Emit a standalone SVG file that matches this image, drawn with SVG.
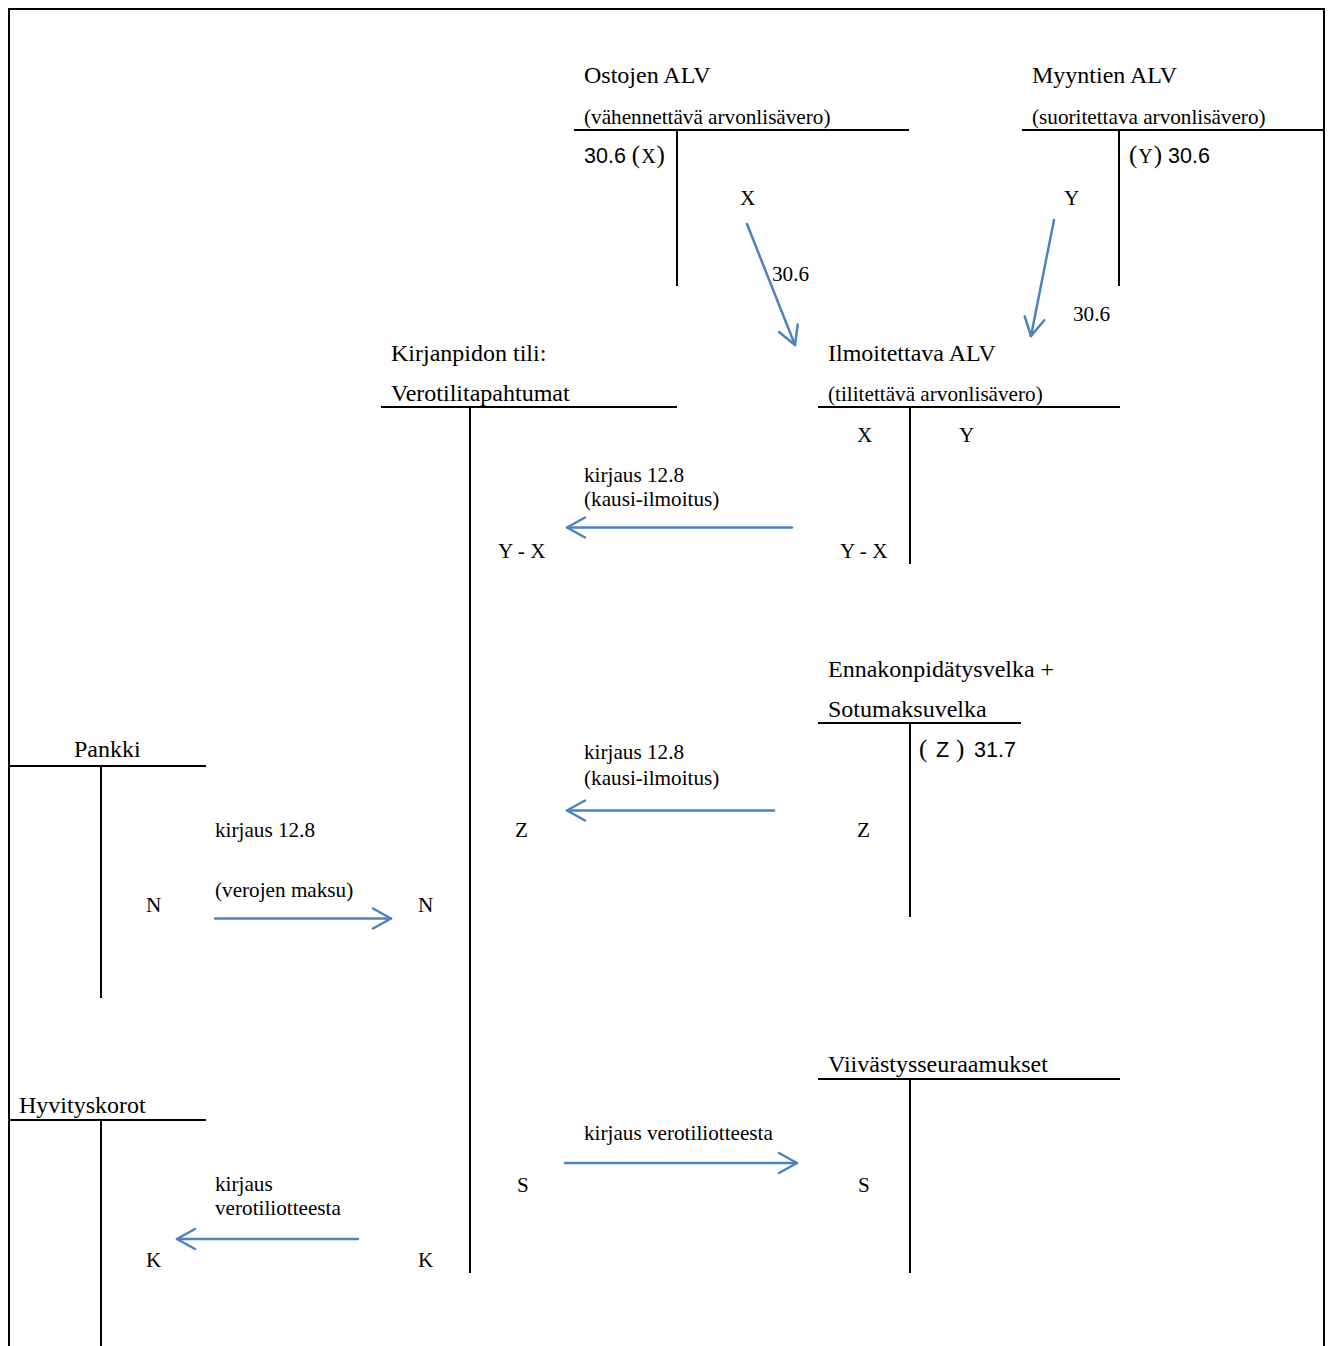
<svg xmlns="http://www.w3.org/2000/svg" width="1331" height="1346" viewBox="0 0 1331 1346">
<style>
.ln{stroke:#000;stroke-width:2;fill:none}
.tl{font-family:"Liberation Serif","Times New Roman",serif;font-size:24px;fill:#000}
.st{font-family:"Liberation Serif","Times New Roman",serif;font-size:21.2px;fill:#000}
.nm{font-family:"Liberation Sans",Arial,sans-serif;font-size:21.5px;fill:#000}
.pr{font-family:"Liberation Serif","Times New Roman",serif;font-size:25px;fill:#000}
.sc{font-family:"Liberation Serif","Times New Roman",serif;font-size:20px;fill:#000}
.ar{stroke:#4F81BD;stroke-width:2.5;fill:none;stroke-linecap:round;marker-end:url(#ah)}
</style>
<defs>
<marker id="ah" markerUnits="userSpaceOnUse" viewBox="-20 -12 22 24" refX="0" refY="0" markerWidth="22" markerHeight="24" orient="auto" overflow="visible">
<path d="M-18,-10 L0,0 L-18,10" fill="none" stroke="#4F81BD" stroke-width="2.5" stroke-linecap="round" stroke-linejoin="round"/>
</marker>
</defs>
<rect width="1331" height="1346" fill="#fff"/>
<path class="ln" d="M9,1346 V9 H1324 V1346"/>

<g id="ostojen-alv">
<line class="ln" x1="574" y1="130" x2="909" y2="130"/>
<line class="ln" x1="677" y1="130" x2="677" y2="286"/>
<text class="tl" x="584" y="83">Ostojen ALV</text>
<text class="st" x="584" y="124">(vähennettävä arvonlisävero)</text>
<text x="584" y="163"><tspan class="nm">30.6 </tspan><tspan class="pr">(</tspan><tspan class="sc" dx="1">X</tspan><tspan class="pr" dx="1">)</tspan></text>
<text class="st" x="740" y="205">X</text>
</g>

<g id="myyntien-alv">
<line class="ln" x1="1022" y1="130" x2="1324" y2="130"/>
<line class="ln" x1="1119" y1="130" x2="1119" y2="286"/>
<text class="tl" x="1032" y="83">Myyntien ALV</text>
<text class="st" x="1032" y="124">(suoritettava arvonlisävero)</text>
<text x="1129" y="163"><tspan class="pr">(</tspan><tspan class="sc" dx="1">Y</tspan><tspan class="pr" dx="1">)</tspan><tspan class="nm"> 30.6</tspan></text>
<text class="st" x="1064" y="205">Y</text>
</g>

<g id="verotilitapahtumat">
<line class="ln" x1="381" y1="407" x2="677" y2="407"/>
<line class="ln" x1="470" y1="407" x2="470" y2="1273"/>
<text class="tl" x="391" y="361">Kirjanpidon tili:</text>
<text class="tl" x="391" y="401">Verotilitapahtumat</text>
<text class="st" x="498" y="558">Y - X</text>
<text class="st" x="515" y="837">Z</text>
<text class="st" x="418" y="912">N</text>
<text class="st" x="517" y="1192">S</text>
<text class="st" x="418" y="1267">K</text>
</g>

<g id="ilmoitettava-alv">
<line class="ln" x1="818" y1="407" x2="1120" y2="407"/>
<line class="ln" x1="910" y1="407" x2="910" y2="564"/>
<text class="tl" x="828" y="361">Ilmoitettava ALV</text>
<text class="st" x="828" y="401">(tilitettävä arvonlisävero)</text>
<text class="st" x="857" y="442">X</text>
<text class="st" x="959" y="442">Y</text>
<text class="st" x="840" y="558">Y - X</text>
</g>

<g id="ennakonpidatysvelka">
<line class="ln" x1="818" y1="723" x2="1021" y2="723"/>
<line class="ln" x1="910" y1="723" x2="910" y2="917"/>
<text class="tl" x="828" y="677">Ennakonpidätysvelka +</text>
<text class="tl" x="828" y="717">Sotumaksuvelka</text>
<text class="pr" x="919" y="757">(</text>
<text class="nm" x="936" y="757">Z</text>
<text class="pr" x="956" y="757">)</text>
<text class="nm" x="974" y="757">31.7</text>
<text class="st" x="857" y="837">Z</text>
</g>

<g id="pankki">
<line class="ln" x1="9" y1="766" x2="206" y2="766"/>
<line class="ln" x1="101" y1="766" x2="101" y2="998"/>
<text class="tl" x="74" y="757">Pankki</text>
<text class="st" x="146" y="912">N</text>
</g>

<g id="viivastysseuraamukset">
<line class="ln" x1="818" y1="1079" x2="1120" y2="1079"/>
<line class="ln" x1="910" y1="1079" x2="910" y2="1273"/>
<text class="tl" x="828" y="1072">Viivästysseuraamukset</text>
<text class="st" x="858" y="1192">S</text>
</g>

<g id="hyvityskorot">
<line class="ln" x1="9" y1="1120" x2="206" y2="1120"/>
<line class="ln" x1="101" y1="1120" x2="101" y2="1346"/>
<text class="tl" x="19" y="1113">Hyvityskorot</text>
<text class="st" x="146" y="1267">K</text>
</g>

<g id="connectors">
<line class="ar" x1="747" y1="224" x2="795" y2="345"/>
<text class="st" x="772" y="281">30.6</text>
<line class="ar" x1="1054" y1="220" x2="1031" y2="336"/>
<text class="st" x="1073" y="321">30.6</text>
<line class="ar" x1="792" y1="527.5" x2="567" y2="527.5"/>
<text class="st" x="584" y="482">kirjaus 12.8</text>
<text class="st" x="584" y="506">(kausi-ilmoitus)</text>
<line class="ar" x1="774" y1="810.5" x2="567" y2="810.5"/>
<text class="st" x="584" y="759">kirjaus 12.8</text>
<text class="st" x="584" y="785">(kausi-ilmoitus)</text>
<line class="ar" x1="215" y1="918.5" x2="391" y2="918.5"/>
<text class="st" x="215" y="837">kirjaus 12.8</text>
<text class="st" x="215" y="897">(verojen maksu)</text>
<line class="ar" x1="565" y1="1163" x2="797" y2="1163"/>
<text class="st" x="584" y="1140">kirjaus verotiliotteesta</text>
<line class="ar" x1="358" y1="1239" x2="177" y2="1239"/>
<text class="st" x="215" y="1191">kirjaus</text>
<text class="st" x="215" y="1215">verotiliotteesta</text>
</g>
</svg>
